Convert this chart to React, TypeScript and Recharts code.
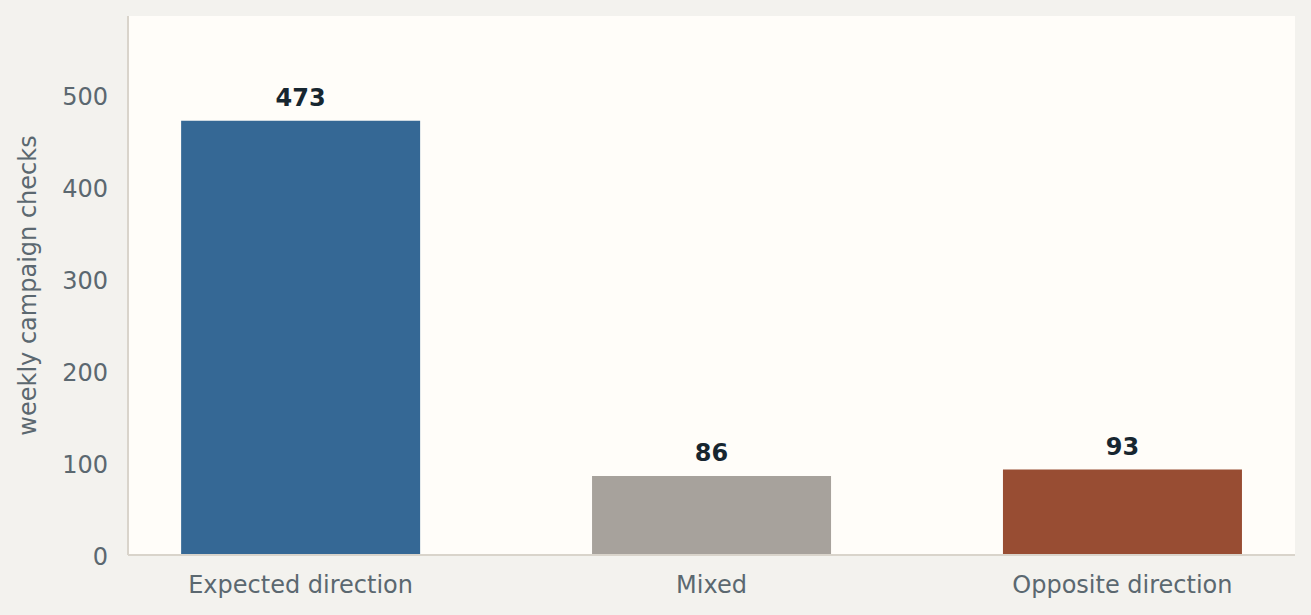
import React from 'react';
import { BarChart, Bar, XAxis, YAxis, CartesianGrid, Cell, LabelList, Label } from 'recharts';

const categories = ['Expected direction', 'Mixed', 'Opposite direction'];
const checks = [473, 86, 93];
const barColors = ['#356895', '#a7a29c', '#984d33'];
const yTicks = [0, 100, 200, 300, 400, 500];
const yLabel = 'weekly campaign checks';

const data = categories.map((name, i) => ({ pos: i, name, value: checks[i] }));

const FONT = '"DejaVu Sans", Verdana, sans-serif';

export default function App() {
  return (
    <div
      style={{
        position: 'absolute',
        left: 0,
        top: 0,
        width: 1311,
        height: 615,
        background: '#f3f2ee',
        fontFamily: FONT,
      }}
    >
      <BarChart
        width={1311}
        height={615}
        data={data}
        margin={{ top: 16, right: 16, bottom: 0, left: 0 }}
      >
        <CartesianGrid horizontal={false} vertical={false} fill="#fffdf9" stroke="none" />
        <XAxis
          dataKey="pos"
          type="number"
          domain={[-0.42, 2.42]}
          ticks={[0, 1, 2]}
          tickFormatter={(v: number) => categories[v] ?? ''}
          allowDataOverflow
          height={60}
          tickLine={false}
          tickSize={0}
          tickMargin={21}
          axisLine={{ stroke: '#d9d4cb', strokeWidth: 2 }}
          tick={{ fill: '#5b6870', fontSize: 24, fontFamily: FONT }}
        />
        <YAxis
          type="number"
          domain={[0, 587]}
          ticks={yTicks}
          allowDataOverflow
          width={128}
          tickLine={false}
          tickSize={0}
          tickMargin={20}
          axisLine={{ stroke: '#d9d4cb', strokeWidth: 2 }}
          tick={{ fill: '#5b6870', fontSize: 24, fontFamily: FONT, dy: 1 }}
        >
          <Label
            content={(props: any) => {
              const vb = props.viewBox || { x: 0, y: 16, width: 128, height: 539 };
              const cy = vb.y + vb.height / 2;
              const cx = 36;
              return (
                <text
                  x={cx}
                  y={cy}
                  transform={`rotate(-90, ${cx}, ${cy})`}
                  textAnchor="middle"
                  fill="#5b6870"
                  fontSize={24}
                  fontFamily={FONT}
                >
                  {yLabel}
                </text>
              );
            }}
          />
        </YAxis>
        <Bar dataKey="value" barSize={239} isAnimationActive={false}>
          {data.map((d, i) => (
            <Cell key={d.name} fill={barColors[i]} />
          ))}
          <LabelList
            dataKey="value"
            position="top"
            offset={15}
            fill="#172630"
            fontSize={24}
            fontWeight="bold"
            fontFamily={FONT}
          />
        </Bar>
      </BarChart>
    </div>
  );
}
